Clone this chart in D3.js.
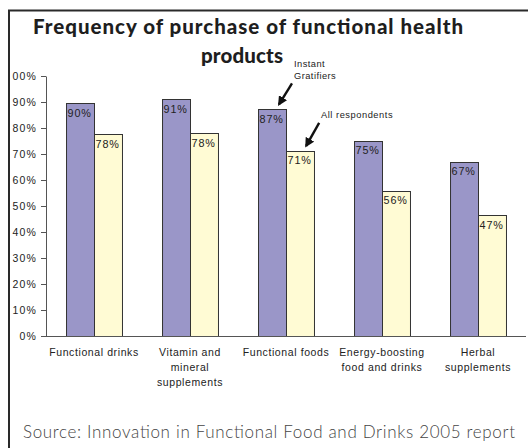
<!DOCTYPE html>
<html><head><meta charset="utf-8">
<script src="https://cdn.jsdelivr.net/npm/d3@7"></script>
<style>body{margin:0;background:#fff}svg{display:block}</style>
</head><body>
<svg id="c" width="528" height="448"></svg>
<script>
const categories = [["Functional drinks"],["Vitamin and","mineral","supplements"],["Functional foods"],["Energy-boosting","food and drinks"],["Herbal","supplements"]];
const seriesNames = ["Instant Gratifiers","All respondents"];
const instantGratifiers = [89.6, 91, 87.2, 75.1, 67];
const allRespondents = [77.6, 78, 71.2, 55.8, 46.5];
const dataLabels1 = ["90%","91%","87%","75%","67%"];
const dataLabels2 = ["78%","78%","71%","56%","47%"];
const yTicks = [0,10,20,30,40,50,60,70,80,90,100];
const colors = ["#9a96c8","#fffbd4"];

(function(){
const svg = d3.select("#c");
const W=528,H=448;
const mL=46,mR=526,mT=76,mB=336;
const defs = svg.append("defs");
const smallFont = "Liberation Sans, Arial";

// frame
svg.append("line").attr("x1",8).attr("x2",W).attr("y1",10.5).attr("y2",10.5).attr("stroke","#2a2a2a").attr("stroke-width",2);
svg.append("line").attr("x1",9).attr("x2",9).attr("y1",10).attr("y2",H).attr("stroke","#2a2a2a").attr("stroke-width",2);

// title
const tAttrs = t => t.attr("text-anchor","middle").attr("font-family","Lato").attr("font-weight",900).attr("font-size",20.5).attr("fill","#1e1e1e").attr("lengthAdjust","spacing");
tAttrs(svg.append("text")).attr("x",248).attr("y",34).attr("textLength",430).text("Frequency of purchase of functional health");
tAttrs(svg.append("text")).attr("x",242).attr("y",63).attr("textLength",82).text("products");

const x = d3.scaleBand().domain(d3.range(categories.length)).range([mL,mR]).paddingInner(0.417).paddingOuter(0.2085);
const xs = d3.scaleBand().domain([0,1]).range([0,x.bandwidth()]);
const y = d3.scaleLinear().domain([0,100]).range([mB,mT]);

defs.append("clipPath").attr("id","clipL").append("rect").attr("x",12).attr("y",0).attr("width",W).attr("height",H);

// y axis
const yAxis = d3.axisLeft(y).tickValues(yTicks).tickFormat(d=>d+"%").tickSize(5).tickSizeOuter(0);
const clipG = svg.append("g").attr("clip-path","url(#clipL)");
const ga = clipG.append("g").attr("transform",`translate(${mL},0)`).call(yAxis);
ga.select(".domain").attr("stroke","#555");
ga.selectAll(".tick line").attr("stroke","#555");
ga.selectAll(".tick text").attr("font-family",smallFont).attr("font-size",10.5).attr("fill","#222").attr("x",-9).attr("letter-spacing",1.2);

// bars
const series=[instantGratifiers,allRespondents];
const labels=[dataLabels1,dataLabels2];
series.forEach((vals,s)=>{
  svg.append("g").selectAll("rect").data(vals).join("rect")
    .attr("x",(d,i)=>x(i)+xs(s)+0.5).attr("y",d=>Math.round(y(d))+0.5)
    .attr("width",xs.bandwidth()).attr("height",d=>mB-Math.round(y(d)))
    .attr("fill",colors[s]).attr("stroke","#333").attr("stroke-width",1);
  svg.append("g").selectAll("text").data(vals).join("text")
    .attr("x",(d,i)=>x(i)+xs(s)+1.5).attr("y",d=>y(d)+13.5)
    .attr("font-family",smallFont).attr("font-size",10.8).attr("fill","#222").attr("letter-spacing",0.9)
    .text((d,i)=>labels[s][i]);
});

// baseline
svg.append("line").attr("x1",mL).attr("x2",mR).attr("y1",mB+0.5).attr("y2",mB+0.5).attr("stroke","#555");

// category labels
const cg = svg.append("g");
categories.forEach((lines,i)=>{
  const t = cg.append("text").attr("text-anchor","middle").attr("font-family",smallFont).attr("font-size",10.5).attr("fill","#222").attr("letter-spacing",0.6);
  lines.forEach((l,k)=>t.append("tspan").attr("x",x(i)+x.bandwidth()/2).attr("y",356+k*15).text(l));
});

// annotations
defs.append("marker").attr("id","arr").attr("viewBox","0 0 10 10").attr("refX",8).attr("refY",5).attr("markerWidth",4).attr("markerHeight",4).attr("orient","auto")
  .append("path").attr("d","M0,0 L10,5 L0,10 z").attr("fill","#111");
const fi = 2;
const ax1 = x(fi)+xs(0)+xs.bandwidth()*0.75, ay1 = y(instantGratifiers[fi])-5;
const ax2 = x(fi)+xs(1)+xs.bandwidth()*0.72, ay2 = y(allRespondents[fi])-5;
svg.append("line").attr("x1",ax1+13).attr("y1",ay1-21).attr("x2",ax1).attr("y2",ay1).attr("stroke","#111").attr("stroke-width",2.4).attr("marker-end","url(#arr)");
svg.append("line").attr("x1",ax2+13).attr("y1",ay2-23).attr("x2",ax2).attr("y2",ay2).attr("stroke","#111").attr("stroke-width",2.4).attr("marker-end","url(#arr)");
const at = svg.append("text").attr("font-family",smallFont).attr("font-size",9.3).attr("fill","#222").attr("letter-spacing",0.45);
at.append("tspan").attr("x",294).attr("y",67).text("Instant");
at.append("tspan").attr("x",294).attr("y",79).text("Gratifiers");
svg.append("text").attr("x",321).attr("y",118).attr("font-family",smallFont).attr("font-size",9.3).attr("fill","#222").attr("letter-spacing",0.45).attr("textLength",72).attr("lengthAdjust","spacing").text("All respondents");

// source
svg.append("text").attr("x",23).attr("y",438).attr("font-family","Lato").attr("font-weight",300).attr("font-size",17).attr("fill","#444").attr("textLength",492).attr("lengthAdjust","spacing").text("Source: Innovation in Functional Food and Drinks 2005 report");
})();
</script>
</body></html>
